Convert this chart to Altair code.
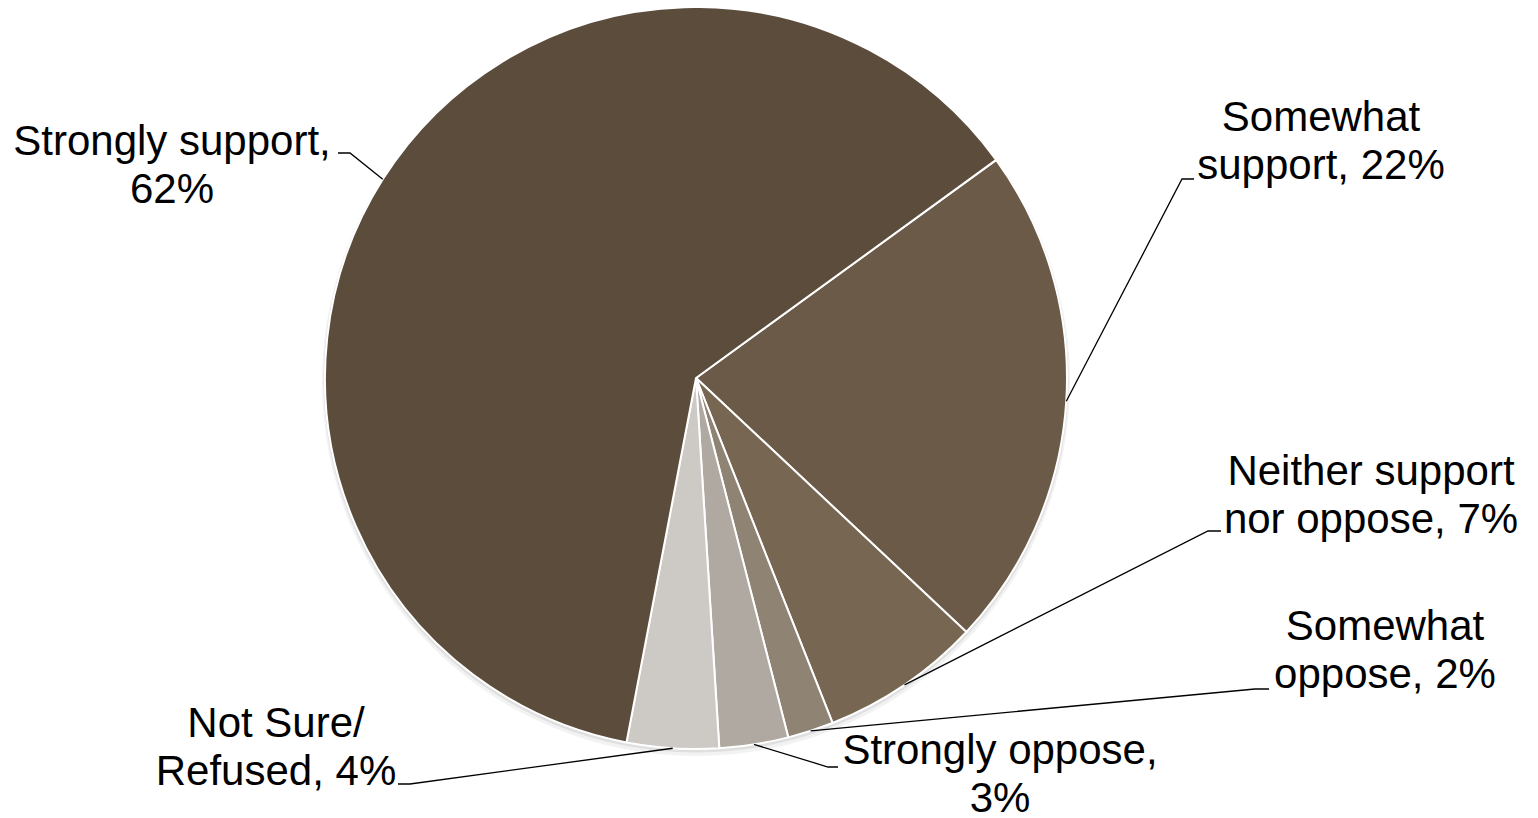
import math
import altair as alt
import pandas as pd

# ---- data ----
categories = ["Somewhat support", "Neither support nor oppose", "Somewhat oppose",
              "Strongly oppose", "Not Sure/ Refused", "Strongly support"]
values = [22, 7, 2, 3, 4, 62]
label_texts = ["Somewhat\nsupport, 22%", "Neither support\nnor oppose, 7%", "Somewhat\noppose, 2%",
               "Strongly oppose,\n3%", "Not Sure/\nRefused, 4%", "Strongly support,\n62%"]
colors = ["#6B5A48", "#776651", "#8F8373", "#B0A9A1", "#CDC9C4", "#5B4C3C"]

# ---- layout (chart pixel coords; page minus 8px margin) ----
M = 8
CX, CY, R = 696 - M, 378 - M, 371
START_DEG = 54
label_xy = [(1321, 131), (1371, 485), (1385, 640), (1000, 764), (276, 737), (172, 155)]
elbow_xy = [(1182, 179), (1208, 531), (1255, 689), (828, 767), (410, 784), (350, 153)]
end_xy = [(1194, 179), (1221, 531), (1269, 689), (838, 767), (398, 784), (338, 153)]

df = pd.DataFrame({"category": categories, "value": values,
                   "order": list(range(len(categories)))})

start = math.radians(START_DEG)
total = sum(values)
rows_line, rows_text = [], []
cum = 0
for i, (c, v) in enumerate(zip(categories, values)):
    mid = start + 2 * math.pi * (cum + v / 2) / total
    cum += v
    ax, ay = CX + R * math.sin(mid), CY - R * math.cos(mid)
    pts = [(ax, ay), (elbow_xy[i][0] - M, elbow_xy[i][1] - M), (end_xy[i][0] - M, end_xy[i][1] - M)]
    for k, (px, py) in enumerate(pts):
        rows_line.append({"category": c, "k": k, "px": px, "py": py})
    rows_text.append({"category": c, "label": label_texts[i],
                      "px": label_xy[i][0] - M, "py": label_xy[i][1] - M})

lines_df = pd.DataFrame(rows_line)
text_df = pd.DataFrame(rows_text)

shadow_df = pd.DataFrame({"s": [0]})
shadow1 = alt.Chart(shadow_df).mark_arc(
    radius=R + 3, theta=0, theta2=2 * math.pi, color="black", opacity=0.05
).encode(x=alt.value(CX), y=alt.value(CY + 4))
shadow2 = alt.Chart(shadow_df).mark_arc(
    radius=R + 1.5, theta=0, theta2=2 * math.pi, color="black", opacity=0.08
).encode(x=alt.value(CX), y=alt.value(CY + 2))

pie = alt.Chart(df).mark_arc(radius=R, stroke="white", strokeWidth=2).encode(
    theta=alt.Theta("value:Q", stack=True,
                    scale=alt.Scale(domain=[0, total], range=[start, start + 2 * math.pi])),
    color=alt.Color("category:N", scale=alt.Scale(domain=categories, range=colors), legend=None),
    order=alt.Order("order:Q"),
    x=alt.value(CX), y=alt.value(CY),
)

leaders = alt.Chart(lines_df).mark_line(color="black", strokeWidth=1.3).encode(
    x=alt.X("px:Q", scale=None, axis=None),
    y=alt.Y("py:Q", scale=None, axis=None),
    detail="category:N",
    order="k:Q",
)

labels = alt.Chart(text_df).mark_text(
    font="Liberation Sans", fontSize=42, lineHeight=48, align="center",
    baseline="alphabetic", lineBreak="\n", color="black",
).encode(
    x=alt.X("px:Q", scale=None, axis=None),
    y=alt.Y("py:Q", scale=None, axis=None),
    text="label:N",
)

chart = alt.layer(shadow1, shadow2, pie, leaders, labels).properties(
    width=1520, height=808, padding=0, autosize=alt.AutoSizeParams(type="none"),
    background="white",
).configure_view(strokeWidth=0, strokeOpacity=0, stroke="transparent")

chart.save("out.html", embed_options={"renderer": "svg", "actions": False})
